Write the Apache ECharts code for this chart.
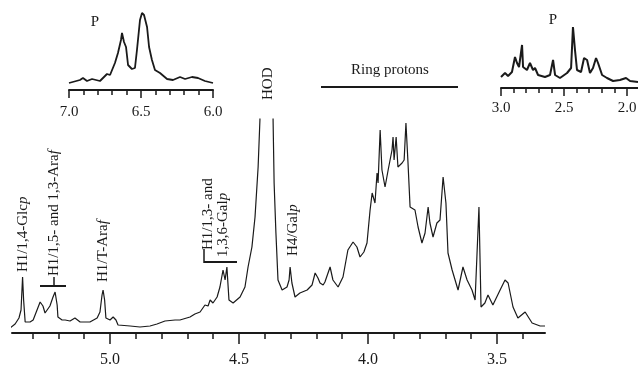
<!DOCTYPE html>
<html>
<head>
<meta charset="utf-8">
<script src="https://cdn.jsdelivr.net/npm/echarts@6/dist/echarts.min.js"></script>
<style>
  html, body { margin: 0; padding: 0; background: #fff; }
  #chart { width: 638px; height: 373px; }
</style>
</head>
<body>
<div id="chart"></div>
<script>
// main spectrum (ppm vs intensity, arbitrary units)
const mainPpm = [5.388,5.368,5.353,5.345,5.339,5.335,5.329,5.310,5.298,5.283,
  5.271,5.260,5.252,5.233,5.221,5.213,5.205,5.202,5.186,5.174,
  5.155,5.136,5.116,5.078,5.050,5.039,5.031,5.027,5.021,5.016,
  5.000,4.988,4.977,4.969,4.922,4.884,4.845,4.818,4.787,4.748,
  4.729,4.690,4.671,4.651,4.632,4.620,4.612,4.601,4.585,4.574,
  4.562,4.554,4.547,4.539,4.523,4.496,4.477,4.465,4.450,4.438,
  4.426,4.419,4.407,4.380,4.368,4.364,4.357,4.349,4.333,4.314,
  4.306,4.302,4.295,4.283,4.264,4.236,4.217,4.205,4.194,4.186,
  4.174,4.167,4.147,4.136,4.116,4.097,4.078,4.058,4.043,4.031,
  4.016,4.004,3.992,3.984,3.973,3.965,3.961,3.953,3.946,3.934,
  3.922,3.907,3.903,3.899,3.891,3.884,3.868,3.860,3.853,3.845,
  3.837,3.818,3.806,3.791,3.779,3.767,3.760,3.748,3.733,3.721,
  3.709,3.698,3.690,3.674,3.651,3.632,3.616,3.597,3.585,3.578,
  3.570,3.562,3.547,3.535,3.516,3.488,3.469,3.457,3.438,3.419,
  3.391,3.364,3.333,3.314];
const mainInt = [5,9,15,23,56,33,11,11,13,23,
  31,27,20,27,36,41,28,16,13,13,
  12,15,11,11,15,21,38,43,33,15,
  13,16,13,8,7,6,7,9,12,13,
  13,16,19,21,28,27,33,30,36,46,
  63,53,66,33,30,36,46,66,86,116,
  166,213,600,600,213,150,100,53,43,46,
  53,66,50,36,40,43,48,60,55,50,
  48,51,66,53,46,56,83,91,86,76,
  81,90,123,140,130,160,150,203,163,146,
  163,183,196,173,196,166,170,173,210,170,
  126,123,106,90,100,126,110,96,110,113,
  156,130,80,63,43,66,53,43,33,76,
  126,26,30,38,28,43,53,50,26,15,
  21,10,7,7];

// inset 7.0-6.0 ppm
const leftPpm = [7.000,6.924,6.903,6.875,6.840,6.785,6.736,6.715,6.681,6.660,
  6.639,6.632,6.618,6.604,6.590,6.563,6.542,6.528,6.507,6.493,
  6.479,6.458,6.444,6.424,6.403,6.368,6.319,6.278,6.229,6.194,
  6.146,6.104,6.056,6.000];
const leftInt = [7,10,12,9,11,9,16,15,27,37,
  50,57,48,43,25,21,22,40,70,77,
  75,63,43,30,20,17,11,10,13,11,
  13,12,9,7];

// inset 3.0-1.9 ppm
const rightPpm = [3.000,2.968,2.944,2.913,2.889,2.873,2.857,2.833,2.825,2.794,
  2.770,2.746,2.730,2.706,2.651,2.611,2.587,2.571,2.532,2.476,
  2.444,2.429,2.413,2.397,2.365,2.341,2.317,2.294,2.270,2.246,
  2.230,2.198,2.159,2.111,2.056,2.008,1.976,1.913];
const rightInt = [11,15,12,16,31,25,21,43,21,18,
  25,18,20,13,11,13,28,13,10,15,
  20,61,38,18,16,30,28,15,20,30,
  25,13,10,7,8,10,7,6];

const mainMajor = [5.0, 4.5, 4.0, 3.5];
const mainMinor = [5.3,5.2,5.1,4.9,4.8,4.7,4.6,4.4,4.3,4.2,4.1,3.9,3.8,3.7,3.6,3.4];
const leftMajor = [7.0, 6.5, 6.0];
const leftMinor = [6.9,6.8,6.7,6.6,6.4,6.3,6.2,6.1];
const rightMajor = [3.0, 2.5, 2.0];
const rightMinor = [2.9,2.8,2.7,2.6,2.4,2.3,2.2,2.1];

const serif = "'Liberation Serif', 'DejaVu Serif', serif";
const ink = '#1a1a1a';

const chart = echarts.init(document.getElementById('chart'));

function pairs(xs, ys) {
  return xs.map((x, i) => [x, ys[i]]);
}

// one value axis with ticks/labels at custom values
function ppmAxis(grid, min, max, ticks, tickLen, showLine, labels, fontSize, margin) {
  return {
    type: 'value', gridIndex: grid, inverse: true, min: min, max: max,
    position: 'bottom', offset: 0,
    axisLine: { show: showLine, onZero: false, lineStyle: { color: ink, width: 2 } },
    axisTick: { show: true, length: tickLen, customValues: ticks, lineStyle: { color: ink, width: 1.5 } },
    axisLabel: labels ? {
      show: true, customValues: labels, color: ink, fontFamily: serif, fontSize: fontSize,
      margin: margin, hideOverlap: false, formatter: v => v.toFixed(1)
    } : { show: false },
    splitLine: { show: false }
  };
}

function yAxis(grid, max) {
  return { type: 'value', gridIndex: grid, min: 0, max: max, show: false };
}

function spectrum(axis, data, width) {
  return {
    type: 'line', xAxisIndex: axis, yAxisIndex: axis, data: data,
    showSymbol: false, symbol: 'none', clip: true, animation: false,
    lineStyle: { color: ink, width: width }
  };
}

function vtext(x, y, text, size) {
  return {
    type: 'text', x: x, y: y, rotation: Math.PI / 2,
    style: {
      text: text, font: size + 'px ' + serif, fill: ink,
      align: 'left', verticalAlign: 'middle',
      rich: { i: { fontStyle: 'italic', fontFamily: serif, fontSize: size, fill: ink } }
    }
  };
}

function seg(x1, y1, x2, y2, w) {
  return { type: 'line', shape: { x1: x1, y1: y1, x2: x2, y2: y2 }, style: { stroke: ink, lineWidth: w } };
}

const option = {
  backgroundColor: '#fff',
  animation: false,
  grid: [
    { left: 12, right: 93, top: 119, bottom: 40, outerBoundsMode: 'none', containLabel: false },
    { left: 69, right: 425, top: 10, bottom: 283, outerBoundsMode: 'none', containLabel: false },
    { left: 501, right: 0, top: 8, bottom: 285, outerBoundsMode: 'none', containLabel: false }
  ],
  xAxis: [
    ppmAxis(0, 3.314, 5.38, mainMajor, 11, true, mainMajor, 16, 19),
    ppmAxis(1, 6.0, 7.0, leftMajor, 8, true, leftMajor, 15, 15),
    ppmAxis(2, 1.913, 3.0, rightMajor, 8, true, rightMajor, 15, 13),
    ppmAxis(0, 3.314, 5.38, mainMinor, 6, false, null),
    ppmAxis(1, 6.0, 7.0, leftMinor, 5, false, null),
    ppmAxis(2, 1.913, 3.0, rightMinor, 5, false, null)
  ],
  yAxis: [yAxis(0, 214), yAxis(1, 80), yAxis(2, 80)],
  series: [
    spectrum(0, pairs(mainPpm, mainInt), 1.2),
    spectrum(1, pairs(leftPpm, leftInt), 1.8),
    spectrum(2, pairs(rightPpm, rightInt), 2)
  ],
  graphic: [
    vtext(23, 272, 'H1/1,4-Glc{i|p}', 15),
    vtext(54, 276, 'H1/1,5- and 1,3-Ara{i|f}', 15),
    vtext(103, 282, 'H1/T-Ara{i|f}', 15),
    vtext(208, 250, 'H1/1,3- and', 15),
    vtext(223, 257, '1,3,6-Gal{i|p}', 15),
    vtext(293, 256, 'H4/Gal{i|p}', 15),
    vtext(268, 100, 'HOD', 15),
    {
      type: 'text', x: 390, y: 70,
      style: { text: 'Ring protons', font: '15px ' + serif, fill: ink, align: 'center', verticalAlign: 'middle' }
    },
    {
      type: 'text', x: 95, y: 22,
      style: { text: 'P', font: '15px ' + serif, fill: ink, align: 'center', verticalAlign: 'middle' }
    },
    {
      type: 'text', x: 553, y: 20,
      style: { text: 'P', font: '15px ' + serif, fill: ink, align: 'center', verticalAlign: 'middle' }
    },
    seg(321, 87, 458, 87, 2),
    seg(40, 286, 66, 286, 2),
    seg(54, 277, 54, 286, 1.5),
    seg(204, 249, 204, 263, 1.5),
    seg(204, 262, 237, 262, 2)
  ]
};

chart.setOption(option);
</script>
</body>
</html>
